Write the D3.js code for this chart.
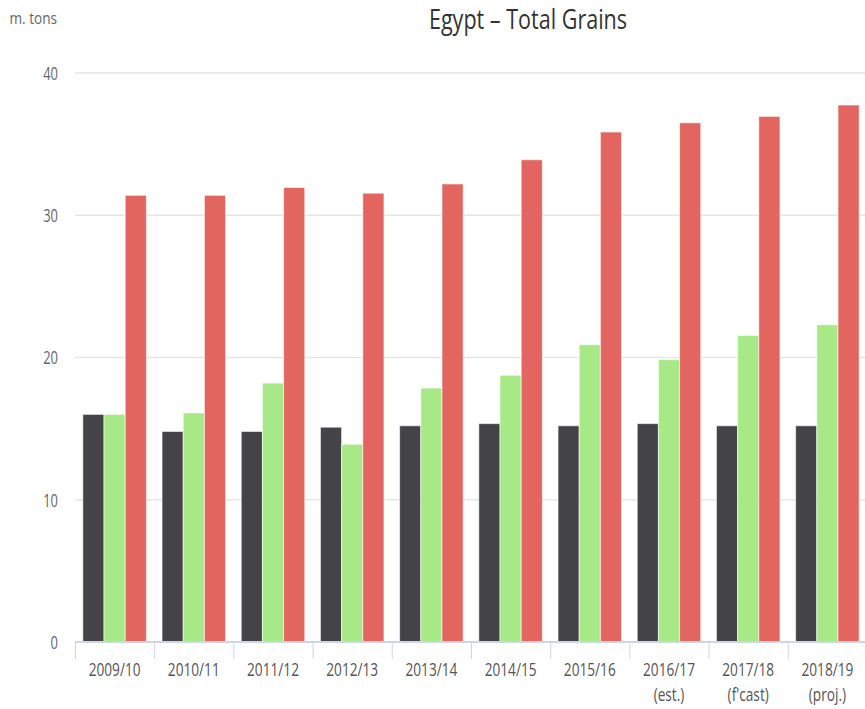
<!DOCTYPE html>
<html>
<head>
<meta charset="utf-8">
<script src="https://cdn.jsdelivr.net/npm/d3@7"></script>
<style>
  body { margin: 0; background: #fff; }
  text { font-family: "Open Sans", sans-serif; }
</style>
</head>
<body>
<div id="root"></div>
<script>
const categories = ["2009/10", "2010/11", "2011/12", "2012/13", "2013/14", "2014/15", "2015/16", "2016/17", "2017/18", "2018/19"]
const subLabels = ["", "", "", "", "", "", "", "(est.)", "(f'cast)", "(proj.)"]
const production = [16.0, 14.8, 14.8, 15.1, 15.2, 15.35, 15.2, 15.35, 15.2, 15.2]
const imports = [16.0, 16.1, 18.2, 13.9, 17.85, 18.75, 20.9, 19.85, 21.55, 22.3]
const consumption = [31.4, 31.4, 31.95, 31.55, 32.2, 33.9, 35.85, 36.5, 36.95, 37.75]
const yTicks = [0, 10, 20, 30, 40]

const seriesColors = ["#434348", "#a6e986", "#e2665f"]
const series = [production, imports, consumption]

const W = 865, H = 709
const margin = { top: 73, left: 75, bottom: 67 }
const plotRight = 867

const svg = d3.select("#root").append("svg")
  .attr("width", W)
  .attr("height", H)

const x = d3.scaleBand()
  .domain(categories)
  .range([margin.left, plotRight])

// three bars per group, ~10% of the band empty on each side
const x1 = d3.scaleBand()
  .domain(d3.range(series.length))
  .range([0, x.bandwidth()])
  .paddingOuter(0.37)

const y = d3.scaleLinear()
  .domain([0, 40])
  .range([H - margin.bottom, margin.top])

// gridlines
svg.append("g")
  .selectAll("line")
  .data(yTicks.filter(d => d > 0))
  .enter().append("line")
  .attr("x1", margin.left)
  .attr("x2", W)
  .attr("y1", d => y(d))
  .attr("y2", d => y(d))
  .attr("stroke", "#e6e6e6")
  .attr("stroke-width", 1.5)

// y labels
const yAxis = svg.append("g")
  .attr("transform", "translate(" + margin.left + ",0)")
  .call(d3.axisLeft(y).tickValues(yTicks).tickSize(0).tickPadding(0))
yAxis.select(".domain").remove()
yAxis.selectAll("text")
  .attr("x", 0)
  .attr("fill", "#666")
  .attr("font-size", 18)
  .attr("dy", "0.36em")
  .attr("transform", "translate(-17,0) scale(0.72,1)")

// bars
const groups = svg.append("g")
  .selectAll("g")
  .data(categories)
  .enter().append("g")
  .attr("transform", d => "translate(" + x(d) + ",0)")

groups.selectAll("rect")
  .data((d, i) => series.map((s, j) => ({ k: j, v: s[i] })))
  .enter().append("rect")
  .attr("x", d => x1(d.k))
  .attr("width", x1.bandwidth())
  .attr("y", d => y(d.v))
  .attr("height", d => y(0) - y(d.v))
  .attr("fill", d => seriesColors[d.k])
  .attr("stroke", "#fff")
  .attr("stroke-opacity", 0.6)
  .attr("stroke-width", 1)

// x axis
const xAxis = svg.append("g")
  .attr("transform", "translate(0," + y(0) + ")")
  .call(d3.axisBottom(x).tickSize(0).tickPadding(21))
xAxis.select(".domain")
  .attr("stroke", "#ccd6eb")
  .attr("stroke-width", 2)
  .attr("d", "M" + margin.left + ",0H" + W)
xAxis.selectAll("text")
  .attr("fill", "#555")
  .attr("font-size", 18)
  .attr("transform", "scale(0.76,1)")

// tick marks on band boundaries
svg.append("g")
  .selectAll("line")
  .data(categories)
  .enter().append("line")
  .attr("x1", d => x(d) + 0.5)
  .attr("x2", d => x(d) + 0.5)
  .attr("y1", y(0))
  .attr("y2", y(0) + 17)
  .attr("stroke", "#ccd6eb")
  .attr("stroke-width", 1)

// second line of x labels
svg.append("g")
  .selectAll("text")
  .data(categories)
  .enter().append("text")
  .attr("transform", d => "translate(" + (x(d) + x.bandwidth() / 2) + "," + (y(0) + 59) + ") scale(0.76,1)")
  .attr("text-anchor", "middle")
  .attr("fill", "#555")
  .attr("font-size", 18)
  .text((d, i) => subLabels[i])

// title
svg.append("text")
  .attr("transform", "translate(528,29) scale(0.77,1)")
  .attr("text-anchor", "middle")
  .attr("fill", "#333")
  .attr("font-size", 28)
  .text("Egypt \u2013 Total Grains")

svg.append("text")
  .attr("transform", "translate(57,24) scale(0.85,1)")
  .attr("text-anchor", "end")
  .attr("fill", "#666")
  .attr("font-size", 16)
  .text("m. tons")
</script>
</body>
</html>
